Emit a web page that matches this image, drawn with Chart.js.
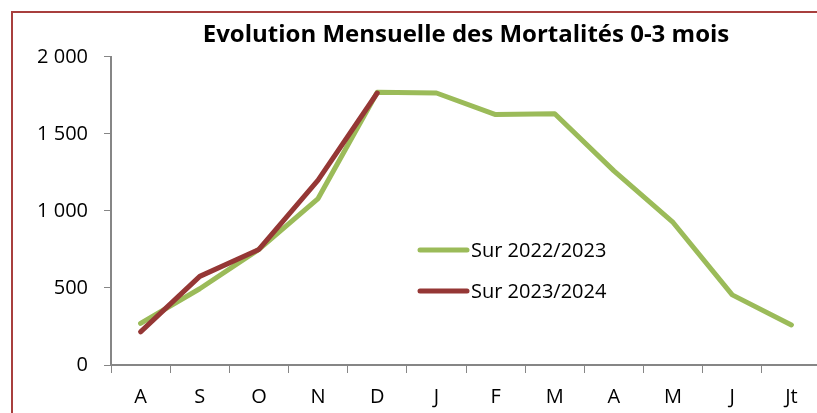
<!DOCTYPE html>
<html>
<head>
<meta charset="utf-8">
<script src="https://cdn.jsdelivr.net/npm/chart.js@4"></script>
<style>
    html, body { margin: 0; padding: 0; overflow: hidden; background: #fff; }
    #frame {
        position: absolute; left: 11px; top: 11px;
        width: 900px; height: 500px;
        border: 2px solid #a83f3d;
    }
    #mortaliteChart { position: absolute; left: 0; top: 0; }
</style>
</head>
<body>
<div id="frame"></div>
<canvas id="mortaliteChart" width="840" height="413"></canvas>
<script>
const mois = ['A', 'S', 'O', 'N', 'D', 'J', 'F', 'M', 'A', 'M', 'J', 'Jt'];
const sur20222023 = [270, 495, 750, 1080, 1770, 1765, 1625, 1630, 1260, 925, 455, 260];
const sur20232024 = [215, 575, 750, 1200, 1765];
const yTicks = [0, 500, 1000, 1500, 2000];

const axisColor = '#868686';
const font = 'Open Sans';

// legend drawn inside the plot, like the Excel original
const innerLegend = {
    id: 'innerLegend',
    afterDraw(chart) {
        const ctx = chart.ctx;
        const rows = [{ y: 250, base: 257 }, { y: 291, base: 298 }];
        ctx.save();
        chart.data.datasets.forEach((ds, i) => {
            const r = rows[i];
            ctx.strokeStyle = ds.borderColor;
            ctx.lineWidth = 5;
            ctx.lineCap = 'round';
            ctx.beginPath();
            ctx.moveTo(420, r.y);
            ctx.lineTo(467, r.y);
            ctx.stroke();
            ctx.fillStyle = '#000';
            ctx.font = '20px "' + font + '"';
            ctx.textBaseline = 'alphabetic';
            ctx.textAlign = 'left';
            ctx.fillText(ds.label, 471, r.base);
        });
        ctx.restore();
    }
};

document.addEventListener('DOMContentLoaded', function() {
    const ctx = document.getElementById('mortaliteChart').getContext('2d');

    new Chart(ctx, {
        type: 'line',
        data: {
            labels: mois,
            datasets: [{
                label: 'Sur 2022/2023',
                data: sur20222023,
                borderColor: '#9bbb59',
                borderWidth: 5,
                order: 1
            }, {
                label: 'Sur 2023/2024',
                data: sur20232024,
                borderColor: '#953735',
                borderWidth: 5,
                order: 0
            }]
        },
        options: {
            responsive: false,
            animation: false,
            layout: { padding: { left: 0, right: 19, top: 0, bottom: 0 } },
            elements: {
                line: { tension: 0, borderCapStyle: 'round', borderJoinStyle: 'round' },
                point: { radius: 0, hoverRadius: 0 }
            },
            plugins: {
                legend: { display: false },
                tooltip: { enabled: false },
                title: {
                    display: true,
                    fullSize: false,
                    text: 'Evolution Mensuelle des Mortalités 0-3 mois',
                    color: '#000',
                    font: { family: font, size: 24, weight: 'bold', lineHeight: 1.2 },
                    padding: { top: 21, bottom: 7 }
                }
            },
            scales: {
                x: {
                    offset: true,
                    grid: {
                        offset: true,
                        drawOnChartArea: false,
                        drawTicks: true,
                        tickLength: 8,
                        color: axisColor
                    },
                    border: { color: axisColor, width: 2 },
                    ticks: {
                        color: '#000',
                        padding: 12,
                        maxRotation: 0,
                        font: { family: font, size: 20 }
                    },
                    afterFit(scale) { scale.height = 48; }
                },
                y: {
                    min: 0,
                    max: 2000,
                    afterBuildTicks(scale) {
                        scale.ticks = yTicks.map(v => ({ value: v }));
                    },
                    grid: {
                        drawOnChartArea: false,
                        drawTicks: true,
                        tickLength: 7,
                        color: axisColor
                    },
                    border: { color: axisColor, width: 2 },
                    ticks: {
                        color: '#000',
                        padding: 16,
                        font: { family: font, size: 20 },
                        callback: v => String(v).replace(/\B(?=(\d{3})+(?!\d))/g, ' ')
                    },
                    afterFit(scale) { scale.width = 111; }
                }
            }
        },
        plugins: [innerLegend]
    });
});
</script>
</body>
</html>
